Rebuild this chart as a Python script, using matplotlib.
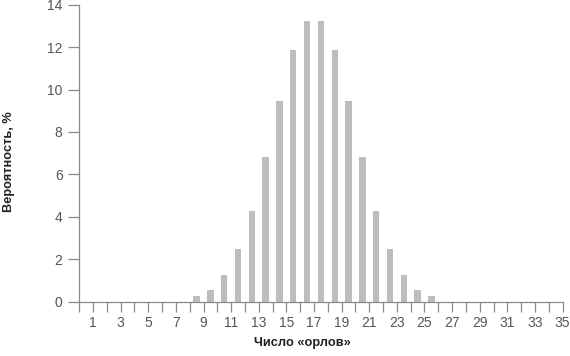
import matplotlib
matplotlib.use("Agg")
import matplotlib.pyplot as plt

plt.rcParams["font.family"] = ["Liberation Sans Narrow", "Liberation Sans", "DejaVu Sans"]

# число «орлов» 1..35, вероятность в %
heads = list(range(1, 36))
prob = [0, 0, 0, 0, 0, 0, 0, 0, 0.25, 0.55, 1.26, 2.47, 4.29, 6.81, 9.46, 11.87, 13.23,
        13.23, 11.87, 9.46, 6.81, 4.29, 2.47, 1.26, 0.55, 0.25, 0, 0, 0, 0, 0, 0, 0, 0, 0]
tick_pos = list(range(0, 36))
tick_lbl = [str(t) if t % 2 == 1 else "" for t in tick_pos]

fig = plt.figure(figsize=(5.7, 3.56), dpi=100)
ax = fig.add_axes([0.139, 0.1525, 0.848, 0.8345])

ax.bar([h - 0.5 for h in heads], prob, width=0.46, color="#bdbdbd", linewidth=0)

ax.set_xlim(0, 35)
ax.set_ylim(0, 14)
ax.set_yticks(range(0, 15, 2))
ax.set_xticks(tick_pos)
ax.set_xticklabels(tick_lbl)

axis_c = "#8a8a8a"
for s in ("top", "right"):
    ax.spines[s].set_visible(False)
for s in ("left", "bottom"):
    ax.spines[s].set_color(axis_c)
    ax.spines[s].set_linewidth(0.9)
ax.tick_params(axis="y", length=8, width=0.9, color=axis_c, labelcolor="#555555",
               labelsize=10, pad=4)
ax.tick_params(axis="x", length=7, width=0.9, color=axis_c, labelcolor="#555555",
               labelsize=10, pad=3)

fig.text(0.016, 0.545, "Вероятность, %", rotation=90, ha="center", va="center",
         fontsize=9.2, fontweight="bold", color="#222222")
fig.text(0.53, 0.036, "Число «орлов»", ha="center", va="center",
         fontsize=9.2, fontweight="bold", color="#222222")

fig.savefig("out.png", dpi=100)
